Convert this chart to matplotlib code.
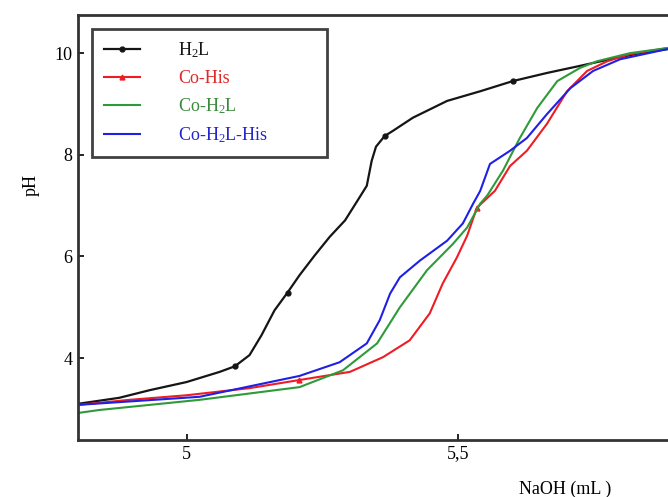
import numpy as np
import matplotlib.pyplot as plt

plt.rcParams['font.family'] = ['Liberation Serif', 'DejaVu Serif']
plt.rcParams['mathtext.fontset'] = 'custom'
plt.rcParams['mathtext.rm'] = 'Liberation Serif'
plt.rcParams['mathtext.it'] = 'Liberation Serif:italic'

# NaOH volume (mL) and pH
h2l_x = [4.799, 4.876, 4.932, 5.000, 5.061, 5.089, 5.116, 5.138, 5.162, 5.186,
         5.208, 5.236, 5.264, 5.292, 5.315, 5.332, 5.341, 5.349, 5.365, 5.380,
         5.417, 5.480, 5.541, 5.601, 5.664, 5.725, 5.780, 5.836, 5.887]
h2l_y = [3.10, 3.22, 3.37, 3.53, 3.73, 3.84, 4.06, 4.45, 4.94, 5.29,
         5.63, 6.02, 6.39, 6.71, 7.10, 7.39, 7.88, 8.16, 8.37, 8.47,
         8.73, 9.06, 9.25, 9.45, 9.61, 9.75, 9.88, 10.00, 10.08]

cohis_x = [4.799, 4.895, 5.000, 5.116, 5.208, 5.301, 5.362, 5.411, 5.448, 5.472,
           5.498, 5.517, 5.535, 5.568, 5.596, 5.627, 5.664, 5.701, 5.738, 5.775,
           5.817, 5.886]
cohis_y = [3.08, 3.18, 3.27, 3.41, 3.57, 3.73, 4.02, 4.35, 4.88, 5.47,
           5.98, 6.41, 6.96, 7.29, 7.78, 8.08, 8.61, 9.25, 9.65, 9.84,
           9.98, 10.10]

coh2l_x = [4.799, 4.839, 5.024, 5.208, 5.288, 5.351, 5.393, 5.443, 5.491, 5.517,
           5.541, 5.554, 5.583, 5.614, 5.646, 5.683, 5.725, 5.756, 5.817, 5.886]
coh2l_y = [2.92, 2.98, 3.18, 3.43, 3.76, 4.29, 5.00, 5.73, 6.25, 6.57,
           7.04, 7.20, 7.69, 8.33, 8.92, 9.45, 9.71, 9.84, 10.00, 10.10]

mix_x = [4.799, 5.024, 5.208, 5.282, 5.332, 5.356, 5.375, 5.393, 5.430, 5.480,
         5.509, 5.528, 5.541, 5.559, 5.596, 5.627, 5.664, 5.707, 5.749, 5.799,
         5.886]
mix_y = [3.08, 3.24, 3.65, 3.92, 4.29, 4.75, 5.27, 5.59, 5.92, 6.31,
         6.65, 7.04, 7.29, 7.82, 8.08, 8.33, 8.80, 9.31, 9.65, 9.88,
         10.08]

labels = ['H$_2$L', 'Co-His', 'Co-H$_2$L', 'Co-H$_2$L-His']
colors = ['#151515', '#ee1c24', '#2e9a3a', '#1f1fe6']
text_colors = ['#151515', '#e02828', '#3a8a3a', '#2525d0']

fig = plt.figure(figsize=(6.68, 4.97), dpi=100)
ax = fig.add_axes([0.1168, 0.1147, 0.8832, 0.8551])

ax.plot(h2l_x, h2l_y, color=colors[0], lw=1.6, marker='o', ms=3.5,
        markevery=[5, 9, 18, 23], label=labels[0])
ax.plot(cohis_x, cohis_y, color=colors[1], lw=1.5, marker='^', ms=3.5,
        markevery=[4, 12], label=labels[1])
ax.plot(coh2l_x, coh2l_y, color=colors[2], lw=1.5, label=labels[2])
ax.plot(mix_x, mix_y, color=colors[3], lw=1.5, label=labels[3])

ax.set_xlim(4.80, 5.887)
ax.set_ylim(2.39, 10.75)
ax.set_xticks([5, 5.5])
ax.set_xticklabels(['5', '5,5'])
ax.set_yticks([4, 6, 8, 10])
ax.tick_params(direction='in', length=4, width=1.2, labelsize=13, pad=4)
for s in ['left', 'bottom', 'top']:
    ax.spines[s].set_linewidth(2)
    ax.spines[s].set_color('#333333')
ax.spines['right'].set_visible(False)

ax.set_xlabel('NaOH (mL )', fontsize=13)
ax.set_ylabel('pH', fontsize=13)
ax.xaxis.set_label_coords(0.825, -0.095)
ax.yaxis.set_label_coords(-0.065, 0.6)

leg = ax.legend(loc='upper left', bbox_to_anchor=(0.0237, 0.667, 0.398, 0.3),
                mode='expand', fontsize=13, frameon=True, fancybox=False,
                handlelength=2.0, handletextpad=2.1, labelspacing=0.52,
                borderpad=0.65, borderaxespad=0)
leg.get_frame().set_edgecolor('#111111')
leg.get_frame().set_linewidth(2)
for t, c in zip(leg.get_texts(), text_colors):
    t.set_color(c)

fig.savefig('out.png', dpi=100)
